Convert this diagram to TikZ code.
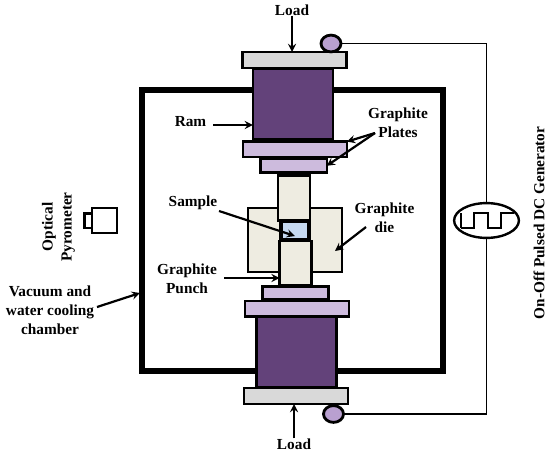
\documentclass[tikz,border=0pt]{standalone}
\usepackage{fontspec}
\setmainfont{Liberation Serif}
\usepackage{tikz}
\usetikzlibrary{shapes,arrows,positioning,fit,backgrounds}

\definecolor{ramcol}{HTML}{63427A}
\definecolor{platecol}{HTML}{CDBBDD}
\definecolor{loadcol}{HTML}{D9D9D9}
\definecolor{diecol}{HTML}{EEECE1}
\definecolor{samplecol}{HTML}{C6D9F1}
\definecolor{contactcol}{HTML}{B9A0D0}

\begin{document}
\begin{tikzpicture}[
    x=0.025cm, y=-0.025cm,
    part/.style={rectangle, draw=black, line width=0.06cm, inner sep=0pt, outer sep=0pt},
    loadplate/.style={part, fill=loadcol, minimum width=2.6cm, minimum height=0.4cm},
    ram/.style={part, fill=ramcol, minimum width=2.0cm, minimum height=1.76cm},
    plate/.style={part, fill=platecol, minimum width=2.6cm, minimum height=0.39cm},
    smallplate/.style={part, fill=platecol, minimum width=1.65cm, minimum height=0.33cm},
    punch/.style={part, fill=diecol, minimum width=0.8cm, minimum height=1.12cm},
    contact/.style={ellipse, draw=black, line width=0.07cm, fill=contactcol, minimum width=0.5cm, minimum height=0.42cm, inner sep=0pt, outer sep=0pt},
    lbl/.style={font=\fontsize{10.9}{13.5}\selectfont\bfseries, align=center, inner sep=0pt},
    arrow/.style={->, >=stealth, line width=0.055cm, draw=black},
    wire/.style={line width=0.045cm, draw=black},
]
    \useasboundingbox (0,0) rectangle (550,454);

    % chamber
    \node[rectangle, draw=black, line width=0.15cm, minimum width=7.52cm, minimum height=7.03cm, inner sep=0pt, outer sep=0pt] (chamber) at (292.5,230.5) {};

    % upper stack
    \node[loadplate] (loadup) at (294.5,60) {};
    \node[ram, below=0.03cm of loadup, xshift=-0.04cm] (ramup) {};
    \node[plate, below=0.05cm of ramup, xshift=0.05cm] (plateup) {};
    \node[smallplate, below=0.05cm of plateup, xshift=-0.03cm] (smallup) {};

    % lower stack
    \node[loadplate] (loaddown) at (296,396) {};
    \node[ram, above=0.03cm of loaddown, xshift=0.01cm] (ramdown) {};
    \node[plate, above=0cm of ramdown, xshift=0.01cm] (platedown) {};
    \node[smallplate, above=0.03cm of platedown, xshift=-0.03cm] (smalldown) {};

    % die and punches
    \node[part, fill=diecol, line width=0.05cm, minimum width=2.35cm, minimum height=1.6cm] (die) at (295,240) {};
    \node[punch, below=0.08cm of smallup] (punchup) {};
    \node[punch, above=0.02cm of smalldown] (punchdown) {};
    \node[part, fill=samplecol, line width=0.09cm, minimum width=0.7cm, minimum height=0.47cm] (sample) at (295,230.5) {};

    % contacts and generator
    \node[contact] (contactup) at (331,43.5) {};
    \node[contact] (contactdown) at (333.5,414) {};
    \node[ellipse, draw=black, line width=0.06cm, fill=white, minimum width=1.62cm, minimum height=0.87cm, inner sep=0pt, outer sep=0pt] (pulse) at (486.5,220.5) {};
    \draw[wire] (contactup.east) -| (pulse.north);
    \draw[wire] (pulse.south) |- (contactdown.east);
    \draw[wire] (461,228) -- (461,213) (461,228) -- (474,228) -- (474,213) -- (488,213) -- (488,228) -- (501,228) -- (501,213) -- (514,213);

    % pyrometer
    \node[part, fill=white, minimum width=0.63cm, minimum height=0.63cm] (pyro) at (104.5,220.5) {};
    \node[part, fill=white, left=0cm of pyro, minimum width=0.18cm, minimum height=0.36cm] (lens) {};

    % labels
    \node[lbl] (loadtop) at (292,10) {Load};
    \node[lbl] (loadbottom) at (294,444) {Load};
    \node[lbl] (ramtxt) at (190.5,122) {Ram};
    \node[lbl] (platestxt) at (398,122.5) {Graphite\\Plates};
    \node[lbl] (sampletxt) at (193,203) {Sample};
    \node[lbl] (dietxt) at (384.5,217.5) {Graphite\\die};
    \node[lbl] (punchtxt) at (187,278.5) {Graphite\\Punch};
    \node[lbl, rotate=90] (pyrotxt) at (58.5,227) {Optical\\Pyrometer};
    \node[lbl] (chambertxt) at (50,310) {Vacuum and\\water cooling\\chamber};
    \node[lbl, rotate=90] (pulsetxt) at (539,223) {On-Off Pulsed DC Generator};

    % pointers
    \coordinate (ramtail) at (213,125);
    \coordinate (platestail) at (375,133);
    \coordinate (sampletail) at (219,211);
    \coordinate (sampletip) at (295,236);
    \coordinate (dietail) at (366,227);
    \coordinate (dietip) at (335,251);
    \coordinate (punchtail) at (224,278);
    \coordinate (chambertail) at (97,307);
    \coordinate (chambertip) at (140,293);

    \draw[arrow] (loadtop.south) -- (loadtop.south |- loadup.north);
    \draw[arrow] (loadbottom.north) -- (loadbottom.north |- loaddown.south);
    \draw[arrow] (ramtail) -- (ramtail -| ramup.west);
    \draw[arrow] (platestail) -- (plateup.north east);
    \draw[arrow] (platestail) -- (smallup.east);
    \draw[arrow] (sampletail) -- (sampletip);
    \draw[arrow] (dietail) -- (dietip);
    \draw[arrow] (punchtail) -- (punchtail -| punchdown.west);
    \draw[arrow] (chambertail) -- (chambertip);

\end{tikzpicture}
\end{document}
